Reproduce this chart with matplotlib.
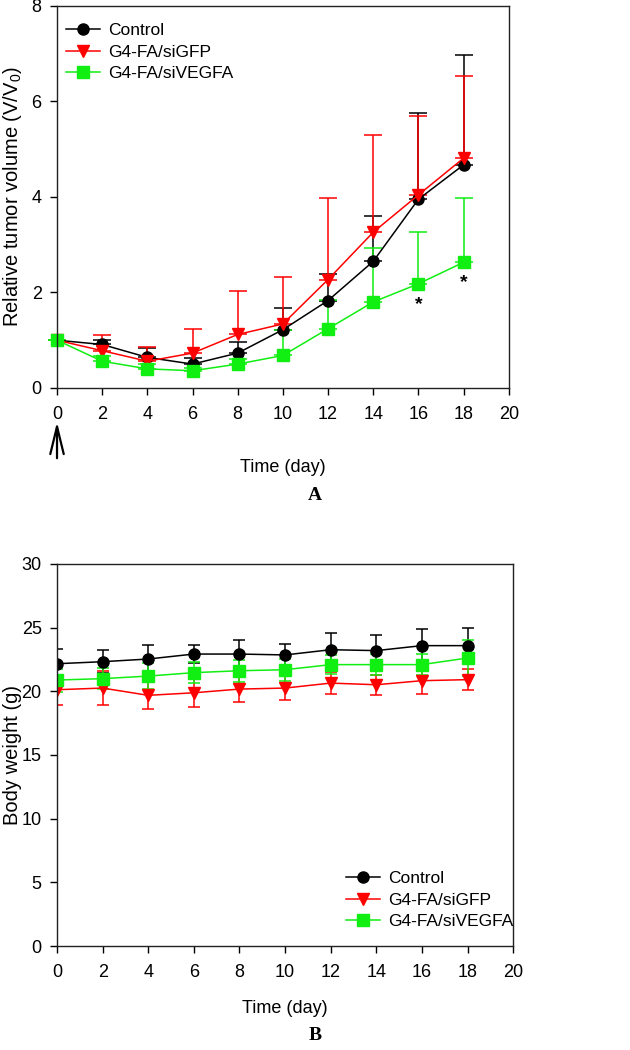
import matplotlib
matplotlib.use('Agg')
import matplotlib.pyplot as plt

plt.rcParams['font.family'] = ['Liberation Sans', 'DejaVu Sans']
plt.rcParams['mathtext.fontset'] = 'custom'
plt.rcParams['mathtext.rm'] = 'Liberation Sans'

days = [0, 2, 4, 6, 8, 10, 12, 14, 16, 18]
groups = ['Control', 'G4-FA/siGFP', 'G4-FA/siVEGFA']
colors = ['black', 'red', '#11ee11']
markers = ['o', 'v', 's']
marker_sizes = [8, 9, 8]

# A: relative tumor volume (upper error bars only)
vol_control = [1.0, 0.91, 0.64, 0.50, 0.73, 1.22, 1.83, 2.65, 3.95, 4.67]
vol_sigfp = [1.0, 0.78, 0.56, 0.73, 1.12, 1.34, 2.27, 3.26, 4.04, 4.81]
vol_sivegfa = [1.0, 0.56, 0.40, 0.36, 0.50, 0.68, 1.24, 1.80, 2.18, 2.63]
vol_err_control = [0.0, 0.1, 0.2, 0.12, 0.23, 0.45, 0.55, 0.95, 1.8, 2.3]
vol_err_sigfp = [0.0, 0.33, 0.3, 0.5, 0.92, 0.98, 1.7, 2.03, 1.66, 1.72]
vol_err_sivegfa = [0.0, 0.1, 0.1, 0.05, 0.1, 0.54, 0.6, 1.13, 1.08, 1.34]
star_days = [16, 18]

# B: body weight (symmetric error bars)
bw_control = [22.16, 22.32, 22.53, 22.92, 22.92, 22.85, 23.26, 23.19, 23.58, 23.58]
bw_sigfp = [20.12, 20.25, 19.68, 19.88, 20.17, 20.25, 20.64, 20.51, 20.83, 20.91]
bw_sivegfa = [20.88, 20.99, 21.19, 21.46, 21.61, 21.69, 22.09, 22.09, 22.09, 22.61]
bw_err_control = [1.18, 0.92, 1.1, 0.74, 1.08, 0.86, 1.34, 1.23, 1.31, 1.39]
bw_err_sigfp = [1.18, 1.31, 1.08, 1.12, 1.04, 0.92, 0.84, 0.79, 1.08, 0.84]
bw_err_sivegfa = [0.9, 0.8, 1.0, 0.8, 0.85, 0.85, 0.75, 0.8, 0.8, 1.44]

fig = plt.figure(figsize=(6.3, 10.5), dpi=100)
ax1 = fig.add_axes([0.0905, 0.6305, 0.717, 0.364])
ax2 = fig.add_axes([0.0905, 0.099, 0.724, 0.364])


def style_axes(ax, ymax, ystep, ylabel, xlab_y):
    ax.set_xlim(0, 20)
    ax.set_ylim(0, ymax)
    ax.set_xticks(range(0, 21, 2))
    ax.set_yticks(range(0, ymax + 1, ystep))
    ax.tick_params(direction='out', length=5, width=1, labelsize=13)
    ax.tick_params(axis='x', pad=8)
    ax.tick_params(axis='y', pad=6)
    for sp in ax.spines.values():
        sp.set_linewidth(1)
        sp.set_color('#222222')
    ax.set_xlabel('Time (day)', fontsize=13)
    ax.xaxis.set_label_coords(0.5, xlab_y)
    ax.xaxis.label.set_va('center')
    ax.set_ylabel(ylabel, fontsize=14.5)
    # label centre at x = 12 px in the figure
    ax.yaxis.set_label_coords(-(57 - 12) / (ax.get_position().width * 630), 0.5)
    ax.yaxis.label.set_va('center')


vol = [vol_control, vol_sigfp, vol_sivegfa]
vol_err = [vol_err_control, vol_err_sigfp, vol_err_sivegfa]
conts = []
for i in range(3):
    c = ax1.errorbar(days, vol[i], yerr=[[0] * len(days), vol_err[i]], color=colors[i],
                     marker=markers[i], markersize=marker_sizes[i], linewidth=1.1,
                     elinewidth=1.1, capsize=6.2, capthick=1.1, clip_on=False)
    conts.append(c)
for d in star_days:
    y = vol_sivegfa[days.index(d)]
    ax1.text(d, y - 0.25, '*', ha='center', va='top', fontsize=14, fontweight='bold')
style_axes(ax1, 8, 2, 'Relative tumor volume (V/V$_0$)', -79 / 382)
ax1.legend([c[0] for c in conts], groups, loc='upper left', frameon=False,
           fontsize=12.5, handlelength=1.95, handletextpad=0.45, labelspacing=0.37,
           borderaxespad=0, borderpad=0, bbox_to_anchor=(0.02, 0.955))
ax1.annotate('', xy=(0, -0.71), xytext=(0, -1.47), xycoords='data',
             arrowprops=dict(arrowstyle='->, head_length=0.9, head_width=0.22',
                             lw=1.6, color='black', mutation_scale=22,
                             shrinkA=0, shrinkB=0),
             annotation_clip=False)
fig.text(0.5, 1 - 496 / 1050, 'A', ha='center', va='center', fontsize=14,
         fontweight='bold', family='Liberation Serif')

bw = [bw_control, bw_sigfp, bw_sivegfa]
bw_err = [bw_err_control, bw_err_sigfp, bw_err_sivegfa]
conts = []
for i in range(3):
    c = ax2.errorbar(days, bw[i], yerr=bw_err[i], color=colors[i],
                     marker=markers[i], markersize=marker_sizes[i], linewidth=1.1,
                     elinewidth=1.1, capsize=4.3, capthick=1.1)
    conts.append(c)
style_axes(ax2, 30, 5, 'Body weight (g)', -62 / 382)
ax2.legend([c[0] for c in conts], groups, loc='upper left', frameon=False,
           fontsize=12.5, handlelength=1.95, handletextpad=0.45, labelspacing=0.37,
           borderaxespad=0, borderpad=0, bbox_to_anchor=(0.634, 0.196))
fig.text(0.5, 1 - 1035 / 1050, 'B', ha='center', va='center', fontsize=14,
         fontweight='bold', family='Liberation Serif')

fig.savefig('out.png', dpi=100)
